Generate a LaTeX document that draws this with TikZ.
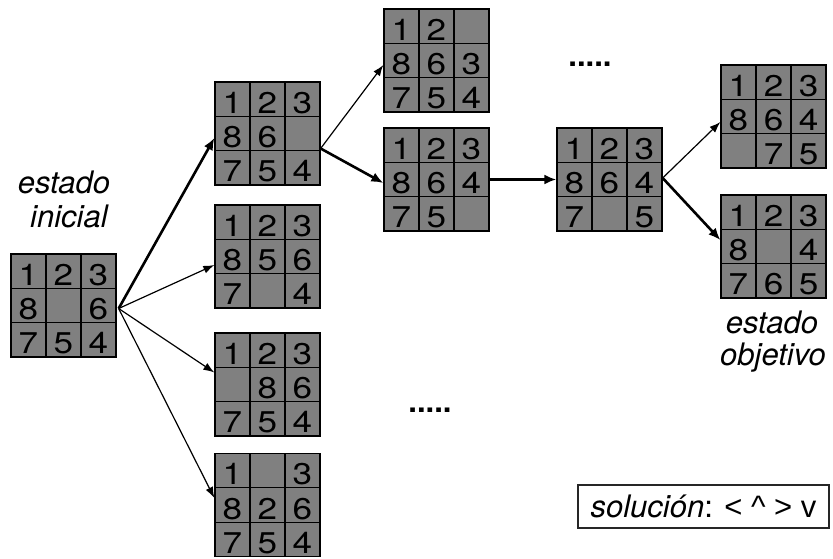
\documentclass[tikz,border=0pt]{standalone}
\usepackage{fontspec}
\setmainfont{TeX Gyre Heros}
\newfontfamily\symfont{Liberation Sans}
\usetikzlibrary{arrows.meta}
\definecolor{tilegray}{RGB}{128,128,128}
\tikzset{
  tilebox/.style={draw=black, fill=tilegray, line width=1.3pt, inner sep=0pt,
                  minimum width=105pt, minimum height=103pt},
  gridline/.style={draw=black, line width=1.3pt},
  digit/.style={anchor=base, inner sep=0pt, font=\fontsize{30}{30}\selectfont},
  caption/.style={anchor=base, inner sep=0pt, font=\fontsize{31}{34}\selectfont\itshape},
  dots/.style={anchor=base, inner sep=0pt, font=\fontsize{31}{34}\selectfont\bfseries},
  thinmove/.style={line width=1.2pt, -{Latex[length=11pt,width=8pt]}},
  thickmove/.style={line width=2.6pt, -{Latex[length=12pt,width=10pt]}},
}
% 8-puzzle board: name, left, top, nine entries (empty = blank square)
\newcommand\puzzletile[4]{%
  \node[tilebox] (#1) at ({#2+52.5},{#3+51.5}) {};
  \foreach \i in {1,2} {
    \draw[gridline] ({#2+35*\i},#3) -- ({#2+35*\i},{#3+103});
    \draw[gridline] (#2,{#3+34.333*\i}) -- ({#2+105},{#3+34.333*\i});
  }
  \foreach \d [count=\k from 0] in {#4} {
    \pgfmathtruncatemacro\row{\k/3}
    \pgfmathtruncatemacro\col{mod(\k,3)}
    \node[digit] at ({#2+35*\col+17.5},{#3+34.333*\row+31.3}) {\scalebox{1.17}[1]{\d}};
  }
}
\begin{document}
\begin{tikzpicture}[x=1pt,y=-1pt]
  \useasboundingbox (0,0) rectangle (833,558);

  % boards
  \puzzletile{ini}{11}{254}{1,2,3,8,{},6,7,5,4}
  \puzzletile{a}{215}{82}{1,2,3,8,6,{},7,5,4}
  \puzzletile{b}{215}{205}{1,2,3,8,5,6,7,{},4}
  \puzzletile{c}{215}{333}{1,2,3,{},8,6,7,5,4}
  \puzzletile{d}{215}{453.5}{1,{},3,8,2,6,7,5,4}
  \puzzletile{e}{384}{9}{1,2,{},8,6,3,7,5,4}
  \puzzletile{f}{384}{128}{1,2,3,8,6,4,7,5,{}}
  \puzzletile{g}{557}{128}{1,2,3,8,6,4,7,{},5}
  \puzzletile{h}{721}{65}{1,2,3,8,6,4,{},7,5}
  \puzzletile{goal}{721}{195}{1,2,3,8,{},4,7,6,5}

  % moves
  \coordinate (iniout) at ([xshift=2pt,yshift=-3pt]ini.east);
  \coordinate (aout) at ([yshift=-15pt]a.east);
  \draw[thickmove] (iniout) -- ([yshift=-4.5pt]a.west);
  \draw[thinmove] (iniout) -- ([yshift=-8.5pt]b.west);
  \draw[thinmove] (iniout) -- ([yshift=12pt]c.west);
  \draw[thinmove] (iniout) -- ([yshift=7pt]d.west);
  \draw[thinmove] (aout) -- ([yshift=-4.5pt]e.west);
  \draw[thickmove] (aout) -- ([yshift=-3.5pt]f.west);
  \draw[thickmove] (f.east) -- (g.west);
  \draw[thinmove] ([yshift=1.5pt]g.east) -- ([yshift=-5.5pt]h.west);
  \draw[thickmove] ([yshift=1.5pt]g.east) -- ([yshift=6.5pt]goal.west);

  % labels
  \node[caption] (ini1) at (64,193) {estado};
  \node[caption] (ini2) at (69,227) {inicial};
  \node[caption] (obj1) at (772,333) {estado};
  \node[caption] (obj2) at (773,365) {objetivo};
  \node[dots] (more1) at (590,66) {.....};
  \node[dots] (more2) at (430,412) {.....};

  \node[draw=black!85, line width=1.1pt, minimum width=251pt, minimum height=43pt,
        inner sep=0pt, font=\fontsize{31}{34}\selectfont] (sol) at (703.5,506.5)
        {\textit{solución}: {\symfont< \textasciicircum{} > v}};
\end{tikzpicture}
\end{document}
